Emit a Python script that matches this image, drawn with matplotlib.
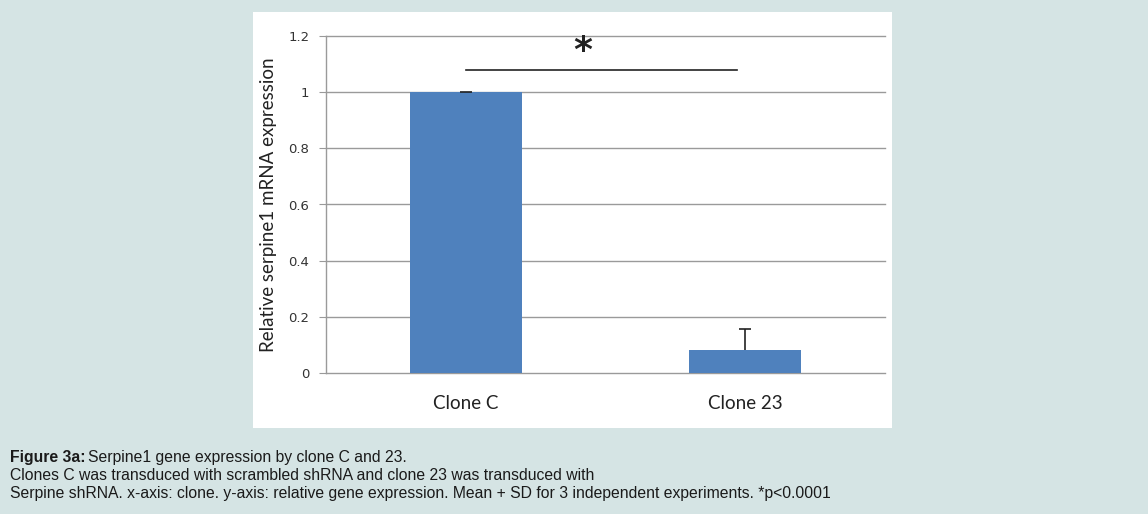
import matplotlib
matplotlib.use("Agg")
import matplotlib.pyplot as plt

categories = ["Clone C", "Clone 23"]
values = [1.0, 0.083]
errors = [0.0, 0.075]
yticks = [0, 0.2, 0.4, 0.6, 0.8, 1.0, 1.2]
ytick_labels = ["0", "0.2", "0.4", "0.6", "0.8", "1", "1.2"]
sig_y = 1.08
star_y = 1.145

W, H = 1148, 514
fig = plt.figure(figsize=(W / 100, H / 100), dpi=100)
fig.patch.set_facecolor("#d5e4e4")

# white panel
bg = fig.add_axes([253 / W, 1 - 428 / H, 639 / W, 416 / H], zorder=0)
bg.set_facecolor("white")
bg.set_xticks([])
bg.set_yticks([])
for s in bg.spines.values():
    s.set_visible(False)

ax = fig.add_axes([326 / W, 1 - 373 / H, 559 / W, 337 / H], zorder=1)
ax.set_facecolor("none")
x = list(range(len(categories)))
ax.bar(x, values, width=0.4, color="#4f81bd", zorder=3)
eb = ax.errorbar(x, values, yerr=[[0, 0], errors], fmt="none", ecolor="#222222",
                 elinewidth=1.2, capsize=4, capthick=1.2, zorder=4)
caps = eb[1]
if len(caps) == 2:
    caps[0].set_visible(False)

ax.set_xlim(-0.5, 1.5)
ax.set_ylim(0, 1.2)
ax.set_yticks(yticks)
ax.set_yticklabels(ytick_labels, fontsize=9.5, color="#333333", family="DejaVu Sans")
ax.set_xticks(x)
ax.set_xticklabels(categories, fontsize=13.5, color="#222222", family="Lato")
ax.tick_params(axis="x", length=0, pad=16)
ax.tick_params(axis="y", length=5, color="#999999", pad=7)
ax.yaxis.grid(True, color="#9a9a9a", linewidth=1.0, zorder=1)
for gl in ax.get_ygridlines():
    gl.set_clip_on(False)
for s in ["top", "right", "bottom"]:
    ax.spines[s].set_visible(False)
ax.spines["left"].set_color("#9a9a9a")
ax.spines["left"].set_linewidth(1.0)

ax.set_ylabel("Relative serpine1 mRNA expression", fontsize=13.5, color="#222222",
              family="Lato")
ax.yaxis.set_label_coords((277 - 326) / 559, 0.5)

# significance bar
ax.plot([0, 0.97], [sig_y, sig_y], color="#222222", linewidth=1.2, zorder=5)
ax.text(0.42, star_y, "*", ha="center", va="center", fontsize=26,
        fontweight="bold", color="#222222")

# caption
cap_kw = dict(color="#1a1a1a", family="Liberation Sans", fontsize=11.3,
              transform=fig.transFigure, va="baseline")
t = fig.text(10 / W, 1 - 462 / H, "Figure 3a:", fontweight="bold", **cap_kw)
fig.canvas.draw()
bb = t.get_window_extent()
fig.text((bb.x1 + 3) / W, 1 - 462 / H, "Serpine1 gene expression by clone C and 23.", **cap_kw)
fig.text(10 / W, 1 - 480 / H,
         "Clones C was transduced with scrambled shRNA and clone 23 was transduced with", **cap_kw)
fig.text(10 / W, 1 - 498 / H,
         "Serpine shRNA. x-axis: clone. y-axis: relative gene expression. Mean + SD for 3 independent experiments. *p<0.0001",
         **cap_kw)

fig.savefig("out.png", dpi=100, facecolor=fig.get_facecolor())
